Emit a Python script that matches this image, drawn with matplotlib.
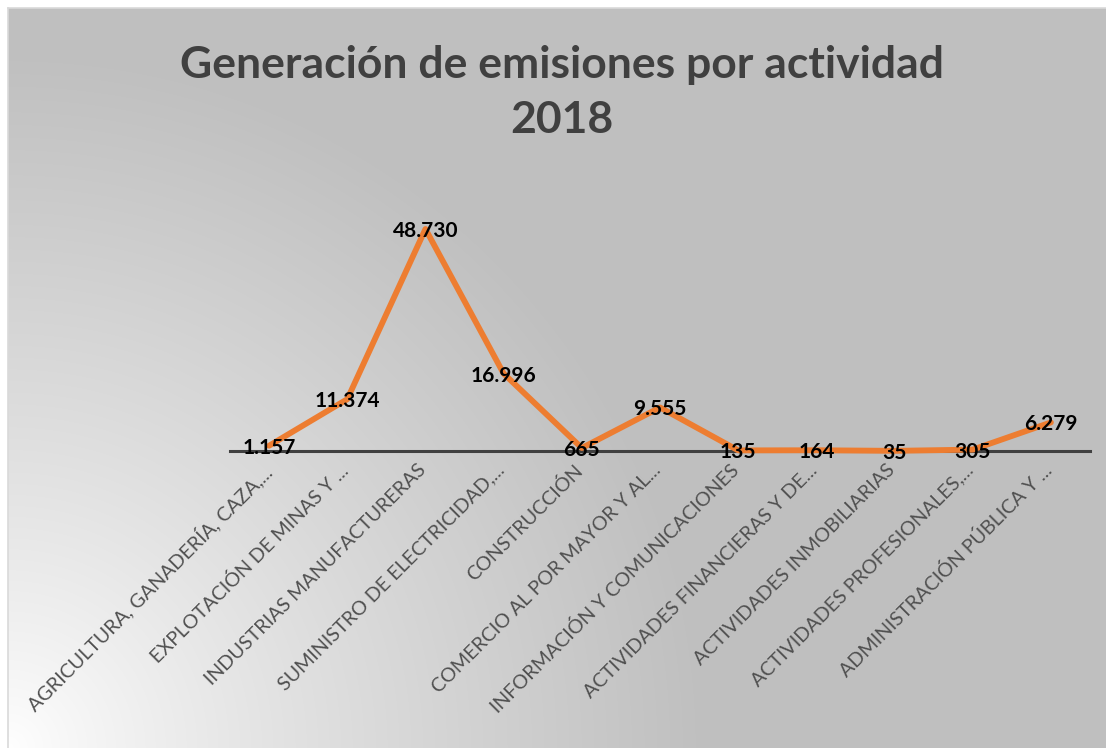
import numpy as np
import matplotlib
matplotlib.use("Agg")
import matplotlib.pyplot as plt
from matplotlib.transforms import ScaledTranslation

# data (t CO2 eq, thousands separator = ".")
categorias = [
    "AGRICULTURA, GANADERÍA, CAZA,...",
    "EXPLOTACIÓN DE MINAS Y ...",
    "INDUSTRIAS MANUFACTURERAS",
    "SUMINISTRO DE ELECTRICIDAD,...",
    "CONSTRUCCIÓN",
    "COMERCIO AL POR MAYOR Y AL...",
    "INFORMACIÓN Y COMUNICACIONES",
    "ACTIVIDADES FINANCIERAS Y DE...",
    "ACTIVIDADES INMOBILIARIAS",
    "ACTIVIDADES PROFESIONALES,...",
    "ADMINISTRACIÓN PÚBLICA Y ...",
]
emisiones = [1157, 11374, 48730, 16996, 665, 9555, 135, 164, 35, 305, 6279]
titulo = "Generación de emisiones por actividad"
anio = "2018"

W, H = 1106, 748
fig = plt.figure(figsize=(W / 100, H / 100), dpi=100, facecolor="white")

# background: radial gradient from bottom-left corner (white -> gray)
bg = fig.add_axes([8 / W, 0, (W - 8) / W, (H - 8) / H], zorder=-5)
gx, gy = np.meshgrid(np.arange(W - 8), np.arange(H - 8))
r = np.sqrt(gx ** 2 + ((H - 8) - gy) ** 2)
t = np.clip(r / 700.0, 0, 1) ** 0.85
grey = 1.0 - t * (1.0 - 191 / 255)
bg.imshow(np.dstack([grey, grey, grey]), origin="upper", aspect="auto",
          extent=(0, 1, 0, 1))
bg.set_xlim(0, 1)
bg.set_ylim(0, 1)
bg.set_xticks([])
bg.set_yticks([])
for s in ["right", "bottom"]:
    bg.spines[s].set_visible(False)
for s in ["left", "top"]:
    bg.spines[s].set_color("#d9d9d9")
    bg.spines[s].set_linewidth(1.2)

# main plot area
ax_left, ax_right = 230, 1090
ax_bottom = 451
ymax = 60000
px_per_unit = 222 / 48730
ax_top = ax_bottom - ymax * px_per_unit
ax = fig.add_axes([ax_left / W, (H - ax_bottom) / H,
                   (ax_right - ax_left) / W, (ax_bottom - ax_top) / H])
ax.patch.set_alpha(0)

x = np.arange(len(categorias))
ax.plot(x, emisiones, color="#ED7D31", lw=4.2, solid_joinstyle="round",
        solid_capstyle="round", zorder=3, clip_on=False)

lbl_off = ScaledTranslation(0, -2 / 100, fig.dpi_scale_trans)
for xi, v in zip(x, emisiones):
    etiqueta = f"{v:,}".replace(",", ".")
    ax.text(xi, v, etiqueta, ha="center", va="center", fontsize=15,
            fontweight="bold", color="black", family="Lato", zorder=4,
            transform=ax.transData + lbl_off)

ax.set_xlim(-0.5, len(categorias) - 0.5)
ax.set_ylim(0, ymax)
ax.set_yticks([])
ax.set_xticks(x)
ax.set_xticklabels(categorias, rotation=45, ha="right", va="top",
                   rotation_mode="anchor", fontsize=14.2, color="#505050",
                   family="Lato")
ax.tick_params(axis="x", length=0, pad=6)
tick_off = ScaledTranslation(-8 / 100, -2 / 100, fig.dpi_scale_trans)
for lab in ax.get_xticklabels():
    lab.set_transform(lab.get_transform() + tick_off)
for s in ["left", "right", "top"]:
    ax.spines[s].set_visible(False)
ax.spines["bottom"].set_color("#404040")
ax.spines["bottom"].set_linewidth(2.2)
ax.spines["bottom"].set_zorder(2)

fig.text(562 / W, 1 - 65 / H, titulo, ha="center", va="center",
         fontsize=32, fontweight="bold", color="#404040", family="Lato")
fig.text(562 / W, 1 - 120 / H, anio, ha="center", va="center",
         fontsize=32, fontweight="bold", color="#404040", family="Lato")

fig.savefig("out.png", dpi=100, facecolor="white")
